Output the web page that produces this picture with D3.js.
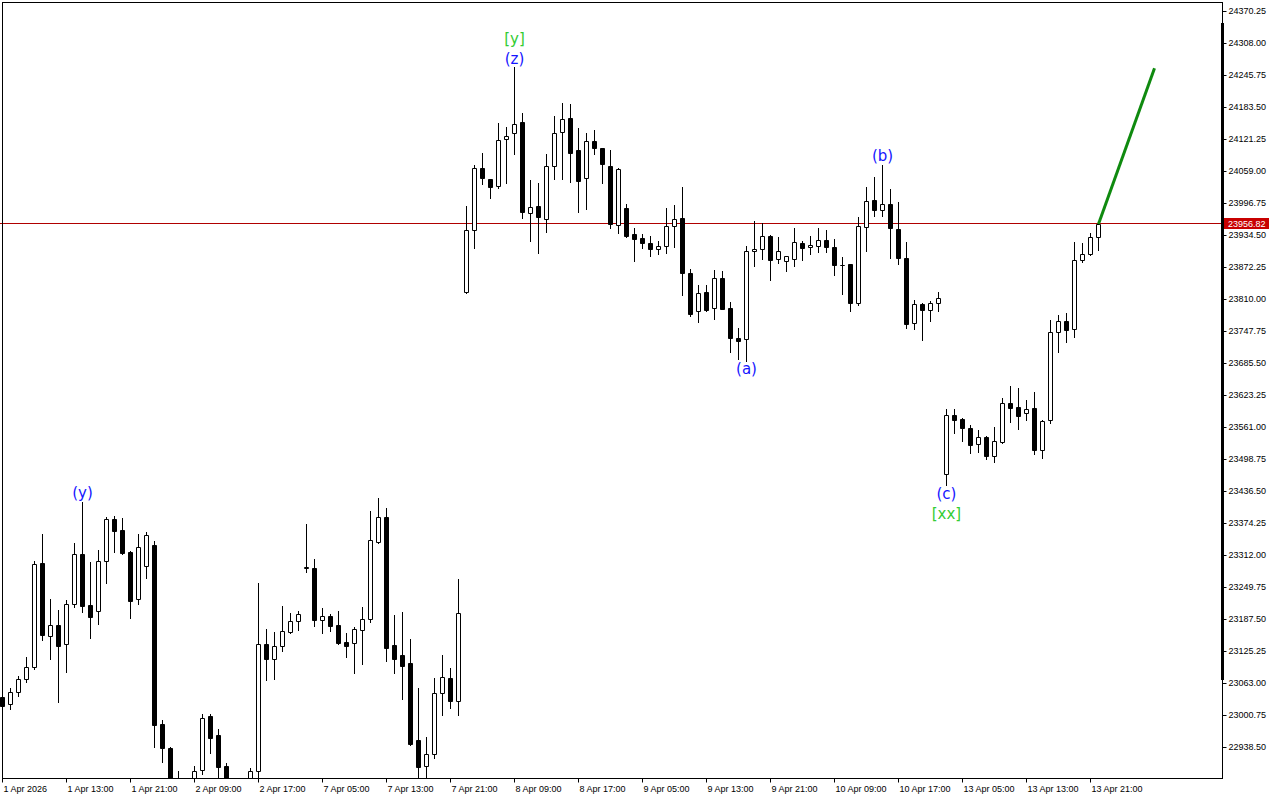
<!DOCTYPE html>
<html><head><meta charset="utf-8">
<script src="https://cdn.jsdelivr.net/npm/d3@7"></script>
<style>
html,body{margin:0;padding:0;background:#fff;}
svg{display:block;}
</style></head><body>
<svg id="chart" width="1280" height="800"></svg>
<script>
const timeLabels = ["1 Apr 2026","1 Apr 13:00","1 Apr 21:00","2 Apr 09:00","2 Apr 17:00","7 Apr 05:00","7 Apr 13:00","7 Apr 21:00","8 Apr 09:00","8 Apr 17:00","9 Apr 05:00","9 Apr 13:00","9 Apr 21:00","10 Apr 09:00","10 Apr 17:00","13 Apr 05:00","13 Apr 13:00","13 Apr 21:00"];
const timeLabelBars = [0,8,16,24,32,40,48,56,64,72,80,88,96,104,112,120,128,136];

const opens = [23037.3,23022.6,23045.9,23071.2,23094.5,23297.4,23154.8,23176.2,23139.3,23217.1,23314.9,23215.1,23203.5,23301.3,23382.4,23361.0,23318.8,23226.8,23292.2,23331.9,
22983.6,22937.5,22858,22845,22850,22894.2,22999.8,22962.2,22903.1,22860,22845,22850,22893.4,23139.9,23111.3,23135.4,23163.2,23184.0,23288.3,23287.7,
23187.1,23194.3,23176.8,23143.7,23141.2,23166.5,23187.9,23338.3,23386.9,23137.9,23118.5,23102.9,22953.1,22901.9,22926.5,23043.9,23073.7,23029.6,23824.0,23944.6,
24065.2,24043.8,24030.2,24121.6,24133.3,24155.3,23977.7,23991.3,23967.2,24069.1,24135.3,24162.5,24100.8,24045.8,24117.8,24104.1,24069.7,23954.9,23987.4,23937.4,
23929.6,23919.9,23908.8,23913.5,23952.4,23968.0,23861.0,23787.1,23824.0,23792.9,23851.2,23793.5,23734.5,23732.6,23904.4,23907.7,23934.1,23888.2,23884.3,23888.2,
23919.9,23911.6,23913.5,23925.8,23911.6,23876.5,23879.1,23802.6,23950.5,24003.0,23984.1,23995.2,23947.2,23890.2,23763.7,23800.7,23789.0,23802.6,23471.1,23584.7,
23577.0,23559.5,23528.3,23541.9,23506.2,23533.4,23608.1,23600.3,23588.6,23598.4,23517.8,23576.2,23746.2,23767.6,23752.0,23886.3,23897.9,23931.0];

const highs = [23042.6,23053.7,23077.6,23114.6,23301.9,23354.4,23227.4,23206.0,23225.4,23336.3,23416.7,23299.9,23322.7,23386.3,23388.9,23384.4,23320.8,23353.8,23357.1,23339.6,
22992.0,22940,22893.4,22879.8,22903.1,23003.1,23003.7,22975.1,22908.4,22875,22870,22899.2,23258.5,23169.0,23163.2,23213.8,23200.7,23204.0,23373.9,23305.2,
23210.5,23198.2,23204.0,23161.3,23173.5,23212.4,23398.6,23423.9,23404.4,23196.3,23202.1,23149.6,23054.8,22958.9,23073.7,23118.5,23093.2,23266.3,23991.9,24071.7,
24094.4,24044.5,24153.4,24145.0,24262.9,24172.2,24042.5,24036.6,24092.5,24167.0,24192.3,24190.3,24143.0,24133.9,24139.7,24105.0,24100.8,24066.4,23995.8,23948.5,
23937.4,23933.0,23923.8,23987.4,23994.4,24029.4,23868.8,23838.2,23838.2,23868.0,23866.0,23805.1,23754.6,23913.5,23962.1,23958.2,23935.5,23931.0,23894.5,23948.5,
23923.8,23933.5,23948.5,23944.6,23927.7,23893.3,23879.5,23969.9,24028.9,24048.3,24071.7,24024.6,23999.7,23921.9,23809.0,23802.7,23807.7,23824.6,23597.0,23597.0,
23578.9,23565.9,23556.1,23545.0,23562.0,23617.8,23641.7,23637.8,23614.5,23630.1,23575.6,23770.1,23779.9,23783.7,23921.9,23919.9,23939.4,23957.0];

const lows = [23015.4,23013.4,23039.3,23065.9,23092.0,23148.2,23111.3,23027.6,23086.0,23211.2,23201.5,23152.1,23179.3,23259.1,23319.4,23314.9,23189.8,23217.7,23268.8,22938.9,
22910.9,22845,22820,22810,22830,22887.0,22928.4,22870,22840,22830,22825,22835,22870,23069.8,23071.8,23126.2,23161.8,23166.5,23280.5,23175.5,
23161.8,23165.7,23140.4,23115.1,23084.0,23101.5,23183.2,23336.3,23106.8,23084.0,23033.4,22944.0,22865,22870,22918.7,23002.3,23015.4,23002.3,23822.0,23910.8,
24035.3,24008.0,24027.5,24036.6,24093.0,23968.0,23924.4,23901.0,23940.7,24045.0,24045.0,24039.2,23980.8,23986.6,24093.0,24037.2,23949.7,23940.0,23932.2,23885.5,
23910.8,23894.6,23899.1,23901.0,23912.1,23819.3,23778.5,23766.8,23787.1,23772.7,23791.0,23708.5,23694.8,23691.0,23875.2,23889.4,23848.5,23880.4,23866.0,23875.2,
23887.4,23897.9,23903.0,23901.8,23858.3,23821.3,23788.2,23799.9,23903.8,23971.9,23971.9,23889.8,23880.0,23755.2,23753.2,23731.8,23768.8,23788.2,23449.7,23550.9,
23535.3,23512.0,23513.9,23500.3,23494.5,23531.5,23572.3,23558.7,23575.6,23510.0,23502.3,23570.3,23708.5,23727.9,23736.5,23882.4,23897.0,23905.7];

const closes = [23019.8,23045.9,23071.2,23094.5,23294.9,23156.8,23176.2,23136.5,23217.1,23314.9,23214.4,23191.8,23301.3,23382.4,23360.3,23317.5,23224.1,23328.0,23351.3,22982.9,
22937.0,22860,22840,22830,22892.8,22995.9,22957.6,22901.2,22860,22845,22850,22892.2,23139.9,23111.3,23136.0,23164.6,23184.0,23197.6,23289.0,23187.1,
23194.3,23175.5,23142.4,23135.4,23168.4,23187.9,23342.2,23386.9,23132.7,23111.3,23097.6,22945.9,22900.0,22925.3,23043.9,23075.1,23029.6,23199.6,23944.6,24065.2,
24046.9,24029.4,24120.3,24127.5,24152.0,23980.8,23990.5,23969.9,24069.1,24133.3,24160.6,24095.6,24041.1,24117.8,24104.1,24074.2,23956.3,24063.3,23934.1,23928.3,
23919.3,23908.8,23913.5,23952.4,23966.0,23861.0,23781.8,23822.1,23789.0,23851.2,23792.1,23735.7,23729.9,23904.4,23908.2,23933.0,23887.4,23903.8,23894.0,23921.3,
23910.8,23915.4,23925.2,23911.6,23876.5,23877.0,23802.6,23952.4,24001.0,23983.5,23995.2,23948.5,23891.7,23762.9,23800.7,23789.0,23802.6,23812.3,23584.7,23576.2,
23559.5,23527.6,23541.9,23506.2,23533.8,23608.1,23599.5,23584.0,23596.4,23517.8,23573.7,23746.2,23767.6,23750.1,23886.3,23897.9,23931.0,23956.82];

const priceTicks = [24370.25,24308.00,24245.75,24183.50,24121.25,24059.00,23996.75,23934.50,23872.25,23810.00,23747.75,23685.50,23623.25,23561.00,23498.75,23436.50,23374.25,23312.00,23249.75,23187.50,23125.25,23063.00,23000.75,22938.50];
const lastPrice = 23956.82;

const waveText   = ["(y)","[y]","(z)","(a)","(b)","(c)","[xx]"];
const waveBar    = [10, 64, 64, 93, 110, 118, 118];
const wavePrice  = [23433.6, 24316.8, 24277.8, 23674.8, 24089.2, 23431.6, 23392.7];
const waveDegree = ["minor","major","minor","minor","minor","minor","major"];

const projectionBars   = [137, 144];
const projectionPrices = [23956.82, 24260.0];

// ---------- drawing ----------
const svg = d3.select("#chart");
const W = 1280, H = 800;
const plotLeft = 2.5, plotRight = 1222.5, plotTop = 2.5, plotBottom = 778.5;

const x = d3.scaleLinear().domain([0, 1]).range([2.5, 10.5]);
const y = d3.scaleLinear().domain([22938.50, 24370.25]).range([747.5, 11.5]);

svg.append("rect").attr("width", W).attr("height", H).attr("fill", "#fff");

svg.append("defs").append("clipPath").attr("id", "plotClip")
  .append("rect").attr("x", 0).attr("y", plotTop).attr("width", plotRight).attr("height", plotBottom - plotTop);

const plot = svg.append("g").attr("clip-path", "url(#plotClip)");

// current price line
const yLast = Math.round(y(lastPrice)) - 0.5;
plot.append("line")
  .attr("x1", 0).attr("x2", plotRight).attr("y1", yLast).attr("y2", yLast)
  .attr("stroke", "#b00000").attr("stroke-width", 1);

const bars = d3.range(opens.length).map(i => ({i, o: opens[i], h: highs[i], l: lows[i], c: closes[i]}));

const cg = plot.append("g");
// wicks
cg.selectAll("line.wick").data(bars).join("line").attr("class", "wick")
  .attr("x1", d => x(d.i)).attr("x2", d => x(d.i))
  .attr("y1", d => Math.round(y(d.h)))
  .attr("y2", d => Math.round(y(d.l)) + 1)
  .attr("stroke", "#000").attr("stroke-width", 1);
// bodies
cg.selectAll("path.body").data(bars).join("path").attr("class", "body")
  .attr("d", d => {
    const t = Math.round(y(Math.max(d.o, d.c))) + 0.5;
    const b = Math.round(y(Math.min(d.o, d.c))) + 0.5;
    const x0 = x(d.i) - 2, x1 = x(d.i) + 2;
    return `M${x0},${t}H${x1}V${b}H${x0}Z`;
  })
  .attr("fill", d => d.c >= d.o ? "#fff" : "#000")
  .attr("stroke", "#000").attr("stroke-width", 1);

// projection line
plot.append("line")
  .attr("x1", x(projectionBars[0])).attr("y1", y(projectionPrices[0]))
  .attr("x2", x(projectionBars[1])).attr("y2", y(projectionPrices[1]))
  .attr("stroke", "#0f8a0f").attr("stroke-width", 3);

// wave labels
const degreeColor = {minor: "#1515ff", major: "#33cc33"};
plot.selectAll("text.wave").data(waveText).join("text").attr("class", "wave")
  .attr("x", (d, i) => x(waveBar[i]))
  .attr("y", (d, i) => y(wavePrice[i]))
  .attr("text-anchor", "middle").attr("dominant-baseline", "central")
  .attr("font-family", "'DejaVu Sans', sans-serif").attr("font-size", 15)
  .attr("fill", (d, i) => degreeColor[waveDegree[i]])
  .text(d => d);

// frame
svg.append("rect").attr("x", plotLeft).attr("y", plotTop)
  .attr("width", plotRight - plotLeft).attr("height", plotBottom - plotTop)
  .attr("fill", "none").attr("stroke", "#000").attr("stroke-width", 1);
svg.append("rect").attr("x", 1221).attr("y", 23).attr("width", 3).attr("height", 657).attr("fill", "#000");

// y axis
const yAxis = d3.axisRight(y).tickValues(priceTicks).tickSize(4).tickPadding(2)
  .tickFormat(d3.format(".2f")).offset(0);
const gy = svg.append("g").attr("transform", `translate(${plotRight},0)`).call(yAxis);
gy.select(".domain").remove();
gy.selectAll("line").attr("stroke", "#000");
gy.selectAll("text").attr("font-family", "'Liberation Sans', Arial, sans-serif")
  .attr("font-size", 9).attr("fill", "#000");

// last price label
const lp = svg.append("g");
lp.append("rect").attr("x", 1224).attr("y", yLast - 5.5).attr("width", 45).attr("height", 11).attr("fill", "#c80000");
lp.append("text").attr("x", 1228).attr("y", yLast).attr("dominant-baseline", "central")
  .attr("font-family", "'Liberation Sans', Arial, sans-serif").attr("font-size", 9).attr("fill", "#fff")
  .text(d3.format(".2f")(lastPrice));

// x axis
const xAxis = d3.axisBottom(x).tickValues(timeLabelBars).tickSize(4)
  .tickFormat((d, i) => timeLabels[i]).offset(0);
const gx = svg.append("g").attr("transform", `translate(0,${plotBottom})`).call(xAxis);
gx.select(".domain").remove();
gx.selectAll("line").attr("stroke", "#000");
gx.selectAll("text").attr("font-family", "'Liberation Sans', Arial, sans-serif")
  .attr("font-size", 9).attr("fill", "#000")
  .attr("text-anchor", "start").attr("x", 1).attr("y", 13.5).attr("dy", 0);
</script>
</body></html>
